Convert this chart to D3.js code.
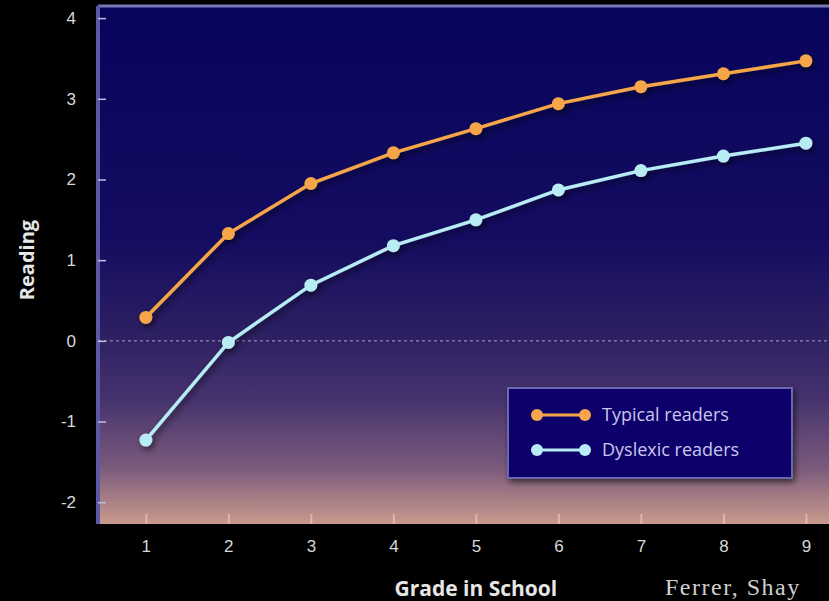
<!DOCTYPE html>
<html>
<head>
<meta charset="utf-8">
<script src="https://cdn.jsdelivr.net/npm/d3@7"></script>
<style>
  html, body { margin: 0; padding: 0; background: #000; }
  svg { display: block; }
</style>
</head>
<body>
<script>
const grades = [1, 2, 3, 4, 5, 6, 7, 8, 9];
const typical = [0.29, 1.33, 1.95, 2.33, 2.63, 2.94, 3.15, 3.31, 3.47];
const dyslexic = [-1.23, -0.02, 0.69, 1.18, 1.50, 1.87, 2.11, 2.29, 2.45];
const yTicks = [-2, -1, 0, 1, 2, 3, 4];
const seriesNames = ["Typical readers", "Dyslexic readers"];
const seriesColors = ["#f5a64a", "#b8ecf5"];

const W = 829, H = 601;
const margin = { top: 6, right: 0, bottom: 77, left: 98 };
const width = W - margin.left - margin.right,
      height = H - margin.top - margin.bottom;

const svg = d3.select("body").append("svg")
    .attr("width", W)
    .attr("height", H)
    .style("font-family", "'Open Sans', sans-serif");

svg.append("rect").attr("width", W).attr("height", H).attr("fill", "#000");

const defs = svg.append("defs");
const grad = defs.append("linearGradient")
    .attr("id", "bg").attr("x1", 0).attr("y1", 0).attr("x2", 0).attr("y2", 1);
grad.append("stop").attr("offset", "0%").attr("stop-color", "#07045c");
grad.append("stop").attr("offset", "45%").attr("stop-color", "#140c60");
grad.append("stop").attr("offset", "63%").attr("stop-color", "#2c1f62");
grad.append("stop").attr("offset", "76%").attr("stop-color", "#46336e");
grad.append("stop").attr("offset", "89%").attr("stop-color", "#7a5a7c");
grad.append("stop").attr("offset", "100%").attr("stop-color", "#c99a8c");

const shadow = defs.append("filter").attr("id", "shadow")
    .attr("x", "-50%").attr("y", "-50%").attr("width", "200%").attr("height", "200%");
shadow.append("feDropShadow").attr("dx", 2).attr("dy", 3).attr("stdDeviation", 3)
    .attr("flood-color", "#000").attr("flood-opacity", 0.6);

const g = svg.append("g").attr("transform", `translate(${margin.left},${margin.top})`);

const x = d3.scaleLinear().domain([0.42, 9.28]).range([0, width]);
const y = d3.scaleLinear().domain([-2.27, 4.15]).range([height, 0]);

g.append("rect").attr("width", width).attr("height", height).attr("fill", "url(#bg)");

// border lines: left and top
g.append("line").attr("x1", 0).attr("x2", width).attr("y1", 0).attr("y2", 0)
    .attr("stroke", "#7b78b8").attr("stroke-width", 3);
g.append("line").attr("x1", 0).attr("x2", 0).attr("y1", 0).attr("y2", height)
    .attr("stroke", "#5d58a4").attr("stroke-width", 4);

// zero reference line
g.append("line")
    .attr("x1", 0).attr("x2", width)
    .attr("y1", y(0)).attr("y2", y(0))
    .attr("stroke", "#b9a6d0").attr("stroke-width", 1.4)
    .attr("stroke-dasharray", "3,3").attr("opacity", 0.75);

// y axis
const yAxis = g.append("g")
    .call(d3.axisLeft(y).tickValues(yTicks).tickSize(-8).tickPadding(22)
        .tickFormat(d => d));
yAxis.select(".domain").remove();
yAxis.selectAll(".tick line").attr("stroke", "#c0bde0").attr("stroke-width", 1.5);
yAxis.selectAll(".tick text").attr("fill", "#d8d8d8").attr("font-size", 17);

// x axis
const xAxis = g.append("g").attr("transform", `translate(0,${height})`)
    .call(d3.axisBottom(x).tickValues(grades).tickSize(-10).tickPadding(16));
xAxis.select(".domain").remove();
xAxis.selectAll(".tick line").attr("stroke", "#f0d0c8").attr("stroke-width", 2).attr("opacity", 0.6);
xAxis.selectAll(".tick text").attr("fill", "#d8d8d8").attr("font-size", 17);

const line = d3.line().x((d, i) => x(grades[i])).y(d => y(d));

[typical, dyslexic].forEach((s, k) => {
    const sg = g.append("g").attr("filter", "url(#shadow)");
    sg.append("path")
        .datum(s)
        .attr("fill", "none")
        .attr("stroke", seriesColors[k])
        .attr("stroke-width", 3.5)
        .attr("d", line);
    sg.selectAll("circle")
        .data(s)
        .enter()
        .append("circle")
        .attr("cx", (d, i) => x(grades[i]))
        .attr("cy", d => y(d))
        .attr("r", 6.5)
        .attr("fill", seriesColors[k]);
});

// legend
const lg = svg.append("g").attr("transform", "translate(508,388)");
lg.append("rect").attr("width", 284).attr("height", 90)
    .attr("fill", "#09066a").attr("stroke", "#6c68b0").attr("stroke-width", 2)
    .attr("filter", "url(#shadow)");
seriesNames.forEach((name, k) => {
    const ly = 27 + k * 35;
    lg.append("line").attr("x1", 29).attr("x2", 77).attr("y1", ly).attr("y2", ly)
        .attr("stroke", seriesColors[k]).attr("stroke-width", 3);
    lg.append("circle").attr("cx", 29).attr("cy", ly).attr("r", 6).attr("fill", seriesColors[k]);
    lg.append("circle").attr("cx", 77).attr("cy", ly).attr("r", 6).attr("fill", seriesColors[k]);
    lg.append("text").attr("x", 94).attr("y", ly + 6)
        .attr("fill", "#c9c6ec").attr("font-size", 18)
        .text(name);
});

// axis titles
svg.append("text")
    .attr("x", margin.left + x(5)).attr("y", 596)
    .attr("text-anchor", "middle")
    .attr("fill", "#e6e6e6").attr("font-size", 21).attr("font-weight", "bold")
    .text("Grade in School");

svg.append("text")
    .attr("transform", "translate(34,260) rotate(-90)")
    .attr("text-anchor", "middle")
    .attr("fill", "#e6e6e6").attr("font-size", 20).attr("font-weight", "bold")
    .text("Reading");

// source credit, visible part as in the picture
svg.append("text")
    .attr("x", 665).attr("y", 595)
    .attr("fill", "#cfcfcf").attr("font-size", 24)
    .attr("letter-spacing", 1.5)
    .attr("font-family", "'Liberation Serif', serif")
    .text("Ferrer, Shay");
</script>
</body>
</html>
